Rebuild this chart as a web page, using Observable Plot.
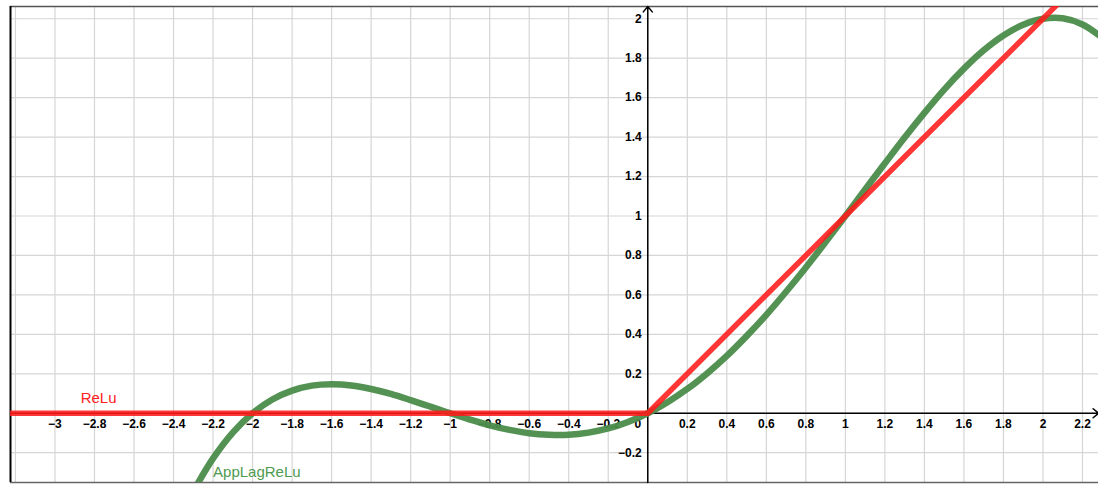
<!DOCTYPE html>
<html><head><meta charset="utf-8">
<script src="https://cdn.jsdelivr.net/npm/d3@7"></script>
<script src="https://cdn.jsdelivr.net/npm/@observablehq/plot@0.6"></script>
<style>html,body{margin:0;padding:0;background:#fff;overflow:hidden;}</style>
</head><body><div id="chart"></div>
<script>
const xDomain = [-3.225, 2.281];
const yDomain = [-0.351, 2.062];

const gridXValues = [-3.2,-3,-2.8,-2.6,-2.4,-2.2,-2,-1.8,-1.6,-1.4,-1.2,-1,-0.8,-0.6,-0.4,-0.2,0,0.2,0.4,0.6,0.8,1,1.2,1.4,1.6,1.8,2,2.2];
const gridYValues = [-0.2,0,0.2,0.4,0.6,0.8,1,1.2,1.4,1.6,1.8,2];

const xTickValues = [-3,-2.8,-2.6,-2.4,-2.2,-2,-1.8,-1.6,-1.4,-1.2,-1,-0.8,-0.6,-0.4,-0.2,0.2,0.4,0.6,0.8,1,1.2,1.4,1.6,1.8,2,2.2];
const xTickLabels = ["−3","−2.8","−2.6","−2.4","−2.2","−2","−1.8","−1.6","−1.4","−1.2","−1","−0.8","−0.6","−0.4","−0.2","0.2","0.4","0.6","0.8","1","1.2","1.4","1.6","1.8","2","2.2"];
const yTickValues = [-0.2,0.2,0.4,0.6,0.8,1,1.2,1.4,1.6,1.8,2];
const yTickLabels = ["−0.2","0.2","0.4","0.6","0.8","1","1.2","1.4","1.6","1.8","2"];
const originLabel = ["0"];

const reluX = [-3.3, 0, 2.3];
const reluY = [0, 0, 2.3];

const appX = [-2.3,-2.2,-2.1,-2.0,-1.9,-1.8,-1.7,-1.6,-1.5,-1.4,-1.3,-1.2,-1.1,-1.0,-0.9,-0.8,-0.7,-0.6,-0.5,-0.4,-0.3,-0.2,-0.1,0,0.1,0.2,0.3,0.4,0.5,0.6,0.7,0.8,0.9,1.0,1.1,1.2,1.3,1.4,1.5,1.6,1.7,1.8,1.9,2.0,2.1,2.2,2.3];
const appY = [-0.396,-0.229,-0.098,0,0.070,0.115,0.140,0.147,0.141,0.123,0.098,0.067,0.034,0,-0.032,-0.061,-0.084,-0.101,-0.109,-0.109,-0.098,-0.077,-0.044,0,0.056,0.123,0.202,0.291,0.391,0.499,0.616,0.739,0.868,1.0,1.134,1.267,1.398,1.523,1.641,1.747,1.840,1.915,1.970,2.0,2.002,1.971,1.904];

const labelNames = ["ReLu", "AppLagReLu"];
const labelX = [-2.87, -2.2];
const labelY = [0.054, -0.321];
const labelColors = ["#ff2020", "#4f9a4f"];

const relu = reluX.map((x, i) => ({x, y: reluY[i]}));
const app = appX.map((x, i) => ({x, y: appY[i]}));
const xTicks = xTickValues.map((v, i) => ({v, t: xTickLabels[i]}));
const yTicks = yTickValues.map((v, i) => ({v, t: yTickLabels[i]}));
const labels = labelNames.map((n, i) => ({n, x: labelX[i], y: labelY[i], c: labelColors[i]}));

const font = "'Liberation Sans', Arial, sans-serif";

const chart = Plot.plot({
  width: 1098,
  height: 485,
  marginLeft: 10,
  marginRight: 0,
  marginTop: 6,
  marginBottom: 3,
  style: {fontFamily: font, background: "#fff"},
  x: {domain: xDomain, axis: null},
  y: {domain: yDomain, axis: null},
  marks: [
    Plot.ruleX(gridXValues, {stroke: "#d6d6d6", strokeWidth: 1.2}),
    Plot.ruleY(gridYValues, {stroke: "#d6d6d6", strokeWidth: 1.2}),
    Plot.ruleY([yDomain[1]], {stroke: "#555", strokeWidth: 1.5}),
    Plot.ruleY([yDomain[0]], {stroke: "#666", strokeWidth: 1.5}),
    Plot.ruleX([xDomain[0]], {stroke: "#000", strokeWidth: 2}),
    Plot.arrow([{x1: xDomain[0], y1: 0, x2: xDomain[1], y2: 0}], {x1: "x1", y1: "y1", x2: "x2", y2: "y2", stroke: "#000", strokeWidth: 1.5, headLength: 7, headAngle: 80}),
    Plot.arrow([{x1: 0, y1: yDomain[0], x2: 0, y2: yDomain[1]}], {x1: "x1", y1: "y1", x2: "x2", y2: "y2", stroke: "#000", strokeWidth: 1.5, headLength: 7, headAngle: 80}),
    Plot.text(xTicks, {x: "v", y: () => 0, text: "t", dy: 11, fontSize: 12, fontWeight: "bold", fill: "#000"}),
    Plot.text(yTicks, {x: () => 0, y: "v", text: "t", dx: -6, textAnchor: "end", fontSize: 12, fontWeight: "bold", fill: "#000"}),
    Plot.text(originLabel, {x: () => 0, y: () => 0, text: d => d, dx: -10, dy: 11, fontSize: 12, fontWeight: "bold", fill: "#000"}),
    Plot.line(app, {x: "x", y: "y", stroke: "#4a8c4a", strokeWidth: 6.5, curve: "catmull-rom", clip: true, strokeOpacity: 0.95}),
    Plot.line(relu, {x: "x", y: "y", stroke: "#ff1a1a", strokeWidth: 5.5, clip: true, strokeOpacity: 0.88}),
    Plot.text(labels, {x: "x", y: "y", text: "n", fill: "c", textAnchor: "start", lineAnchor: "bottom", fontSize: 15})
  ]
});
document.getElementById("chart").appendChild(chart);
</script>
</body></html>
